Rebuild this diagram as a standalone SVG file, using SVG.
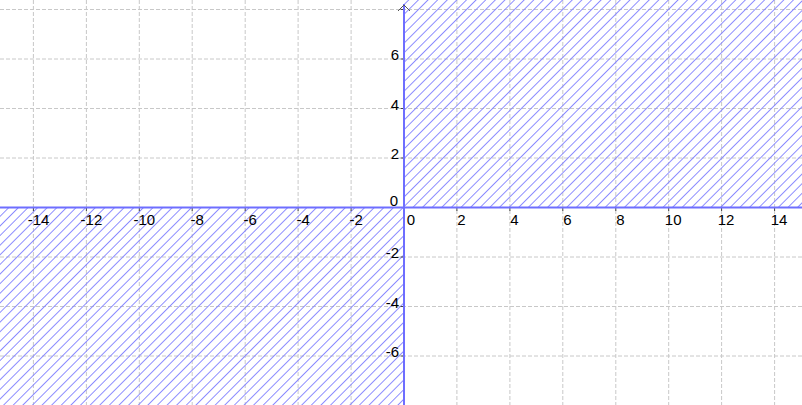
<svg xmlns="http://www.w3.org/2000/svg" width="802" height="405" viewBox="0 0 802 405">
  <style>
    .grid { stroke: #c8c8c8; stroke-width: 1; stroke-dasharray: 4 2; fill: none; }
    .tick { stroke: #444; stroke-width: 1; }
    .lbl { font-family: "Liberation Sans", Arial, sans-serif; font-size: 15px; fill: #000; }
    .xl { text-anchor: middle; }
    .yl { text-anchor: end; }
    .border { stroke: #6e6eff; stroke-width: 2; fill: none; }
  </style>
  <defs>
    <pattern id="hatch" patternUnits="userSpaceOnUse" width="8" height="6.8" patternTransform="rotate(-45)">
      <line x1="0" y1="3.4" x2="8" y2="3.4" stroke="#8080ff" stroke-width="0.9"/>
    </pattern>
  </defs>
  <rect width="802" height="405" fill="#ffffff"/>
  <g id="grid">
    <line class="grid" x1="33.4" y1="0" x2="33.4" y2="405"/>
    <line class="grid" x1="86.4" y1="0" x2="86.4" y2="405"/>
    <line class="grid" x1="139.3" y1="0" x2="139.3" y2="405"/>
    <line class="grid" x1="192.2" y1="0" x2="192.2" y2="405"/>
    <line class="grid" x1="245.2" y1="0" x2="245.2" y2="405"/>
    <line class="grid" x1="298.1" y1="0" x2="298.1" y2="405"/>
    <line class="grid" x1="351.1" y1="0" x2="351.1" y2="405"/>
    <line class="grid" x1="456.9" y1="0" x2="456.9" y2="405"/>
    <line class="grid" x1="509.9" y1="0" x2="509.9" y2="405"/>
    <line class="grid" x1="562.8" y1="0" x2="562.8" y2="405"/>
    <line class="grid" x1="615.8" y1="0" x2="615.8" y2="405"/>
    <line class="grid" x1="668.7" y1="0" x2="668.7" y2="405"/>
    <line class="grid" x1="721.6" y1="0" x2="721.6" y2="405"/>
    <line class="grid" x1="774.6" y1="0" x2="774.6" y2="405"/>
    <line class="grid" x1="0" y1="9.5" x2="802" y2="9.5"/>
    <line class="grid" x1="0" y1="59" x2="802" y2="59"/>
    <line class="grid" x1="0" y1="108.5" x2="802" y2="108.5"/>
    <line class="grid" x1="0" y1="158" x2="802" y2="158"/>
    <line class="grid" x1="0" y1="257" x2="802" y2="257"/>
    <line class="grid" x1="0" y1="306.5" x2="802" y2="306.5"/>
    <line class="grid" x1="0" y1="356" x2="802" y2="356"/>
  </g>
  <g id="regions">
    <rect x="404" y="0" width="398" height="207.5" fill="url(#hatch)"/>
    <rect x="0" y="207.5" width="404" height="197.5" fill="url(#hatch)"/>
  </g>
  <g id="ticks">
    <line class="tick" x1="33.4" y1="207.5" x2="33.4" y2="211"/>
    <line class="tick" x1="86.4" y1="207.5" x2="86.4" y2="211"/>
    <line class="tick" x1="139.3" y1="207.5" x2="139.3" y2="211"/>
    <line class="tick" x1="192.2" y1="207.5" x2="192.2" y2="211"/>
    <line class="tick" x1="245.2" y1="207.5" x2="245.2" y2="211"/>
    <line class="tick" x1="298.1" y1="207.5" x2="298.1" y2="211"/>
    <line class="tick" x1="351.1" y1="207.5" x2="351.1" y2="211"/>
    <line class="tick" x1="456.9" y1="207.5" x2="456.9" y2="211"/>
    <line class="tick" x1="509.9" y1="207.5" x2="509.9" y2="211"/>
    <line class="tick" x1="562.8" y1="207.5" x2="562.8" y2="211"/>
    <line class="tick" x1="615.8" y1="207.5" x2="615.8" y2="211"/>
    <line class="tick" x1="668.7" y1="207.5" x2="668.7" y2="211"/>
    <line class="tick" x1="721.6" y1="207.5" x2="721.6" y2="211"/>
    <line class="tick" x1="774.6" y1="207.5" x2="774.6" y2="211"/>
    <line class="tick" x1="400.5" y1="9.5" x2="404" y2="9.5"/>
    <line class="tick" x1="400.5" y1="59" x2="404" y2="59"/>
    <line class="tick" x1="400.5" y1="108.5" x2="404" y2="108.5"/>
    <line class="tick" x1="400.5" y1="158" x2="404" y2="158"/>
    <line class="tick" x1="400.5" y1="257" x2="404" y2="257"/>
    <line class="tick" x1="400.5" y1="306.5" x2="404" y2="306.5"/>
    <line class="tick" x1="400.5" y1="356" x2="404" y2="356"/>
  </g>
  <g id="axes">
    <line class="border" x1="0" y1="207.5" x2="802" y2="207.5"/>
    <line class="border" x1="404" y1="4" x2="404" y2="405"/>
    <polyline points="398,11 404,5 410,11" fill="none" stroke="#555" stroke-width="1"/>
  </g>
  <g id="x-labels">
    <text class="lbl xl" x="38.5" y="225">-14</text>
    <text class="lbl xl" x="91.4" y="225">-12</text>
    <text class="lbl xl" x="144.3" y="225">-10</text>
    <text class="lbl xl" x="197.2" y="225">-8</text>
    <text class="lbl xl" x="250.2" y="225">-6</text>
    <text class="lbl xl" x="303.1" y="225">-4</text>
    <text class="lbl xl" x="356.1" y="225">-2</text>
    <text class="lbl xl" x="411" y="225">0</text>
    <text class="lbl xl" x="461.4" y="225">2</text>
    <text class="lbl xl" x="514.4" y="225">4</text>
    <text class="lbl xl" x="567.3" y="225">6</text>
    <text class="lbl xl" x="620.3" y="225">8</text>
    <text class="lbl xl" x="673.2" y="225">10</text>
    <text class="lbl xl" x="726.1" y="225">12</text>
    <text class="lbl xl" x="779.1" y="225">14</text>
  </g>
  <g id="y-labels">
    <text class="lbl yl" x="399" y="60">6</text>
    <text class="lbl yl" x="399" y="109.5">4</text>
    <text class="lbl yl" x="399" y="159">2</text>
    <text class="lbl yl" x="398" y="206">0</text>
    <text class="lbl yl" x="399" y="257.5">-2</text>
    <text class="lbl yl" x="399" y="307.5">-4</text>
    <text class="lbl yl" x="399" y="357">-6</text>
  </g>
</svg>
